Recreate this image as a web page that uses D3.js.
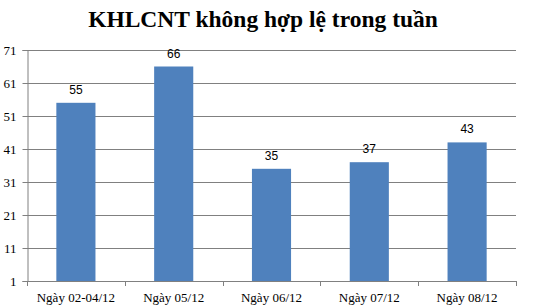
<!DOCTYPE html>
<html>
<head>
<meta charset="utf-8">
<script src="https://cdn.jsdelivr.net/npm/d3@7"></script>
<style>
  body { margin: 0; background: #fff; }
  svg { display: block; }
</style>
</head>
<body>
<svg width="536" height="308"></svg>
<script>
var categories = ['Ngày 02-04/12', 'Ngày 05/12', 'Ngày 06/12', 'Ngày 07/12', 'Ngày 08/12'];
var values = [55, 66, 35, 37, 43];
var yTicks = [1, 11, 21, 31, 41, 51, 61, 71];
var title = 'KHLCNT không hợp lệ trong tuần';

var width = 536;
var height = 308;
var margin = {top: 50, bottom: 27, left: 27, right: 20};

var svg = d3.select('svg');

// title
svg.append('text')
  .attr('x', 263)
  .attr('y', 27)
  .attr('text-anchor', 'middle')
  .attr('font-family', '"Liberation Serif", serif')
  .attr('font-weight', 'bold')
  .attr('font-size', 23.5)
  .text(title);

// scales
var xScale = d3.scaleBand()
  .domain(categories)
  .range([margin.left, width - margin.right])
  .paddingInner(0.6)
  .paddingOuter(0.3);

var yScale = d3.scaleLinear()
  .domain([1, 71])
  .range([height - margin.bottom, margin.top]);

// gridlines
svg.append('g')
  .selectAll('line')
  .data(yTicks)
  .enter().append('line')
  .attr('x1', margin.left)
  .attr('x2', width - margin.right)
  .attr('y1', d => Math.round(yScale(d)) + 0.5)
  .attr('y2', d => Math.round(yScale(d)) + 0.5)
  .attr('stroke', '#808080');

// bars
svg.append('g')
  .selectAll('rect')
  .data(values)
  .enter().append('rect')
  .attr('x', (d, i) => xScale(categories[i]))
  .attr('y', d => yScale(d))
  .attr('width', xScale.bandwidth())
  .attr('height', d => yScale(1) - yScale(d))
  .attr('fill', '#4F81BD');

// value labels
svg.append('g')
  .selectAll('text')
  .data(values)
  .enter().append('text')
  .attr('x', (d, i) => xScale(categories[i]) + xScale.bandwidth() / 2)
  .attr('y', d => yScale(d) - 9)
  .attr('text-anchor', 'middle')
  .attr('font-family', '"Liberation Sans", Arial, sans-serif')
  .attr('font-size', 12)
  .text(d => d);

// y axis
var yAxis = d3.axisLeft(yScale)
  .tickValues(yTicks)
  .tickSize(5)
  .tickPadding(6);

var gy = svg.append('g')
  .attr('transform', 'translate(' + [margin.left + 0.5, 0] + ')')
  .call(yAxis);
gy.select('.domain').attr('stroke', '#808080');
gy.selectAll('.tick line').attr('stroke', '#808080');
gy.selectAll('text')
  .attr('font-family', '"Liberation Serif", serif')
  .attr('font-size', 13)
  .attr('fill', '#000');

// x axis with ticks between categories
var boundaries = d3.range(categories.length + 1)
  .map(i => margin.left + i * (width - margin.right - margin.left) / categories.length);

var gx = svg.append('g');
gx.append('line')
  .attr('x1', margin.left)
  .attr('x2', width - margin.right)
  .attr('y1', Math.round(yScale(1)) + 0.5)
  .attr('y2', Math.round(yScale(1)) + 0.5)
  .attr('stroke', '#808080');
gx.selectAll('.tk')
  .data(boundaries)
  .enter().append('line')
  .attr('x1', d => Math.round(d) + 0.5)
  .attr('x2', d => Math.round(d) + 0.5)
  .attr('y1', Math.round(yScale(1)))
  .attr('y2', Math.round(yScale(1)) + 5)
  .attr('stroke', '#808080');
gx.selectAll('text')
  .data(categories)
  .enter().append('text')
  .attr('x', d => xScale(d) + xScale.bandwidth() / 2)
  .attr('y', 302)
  .attr('text-anchor', 'middle')
  .attr('font-family', '"Liberation Serif", serif')
  .attr('font-size', 13)
  .text(d => d);
</script>
</body>
</html>
